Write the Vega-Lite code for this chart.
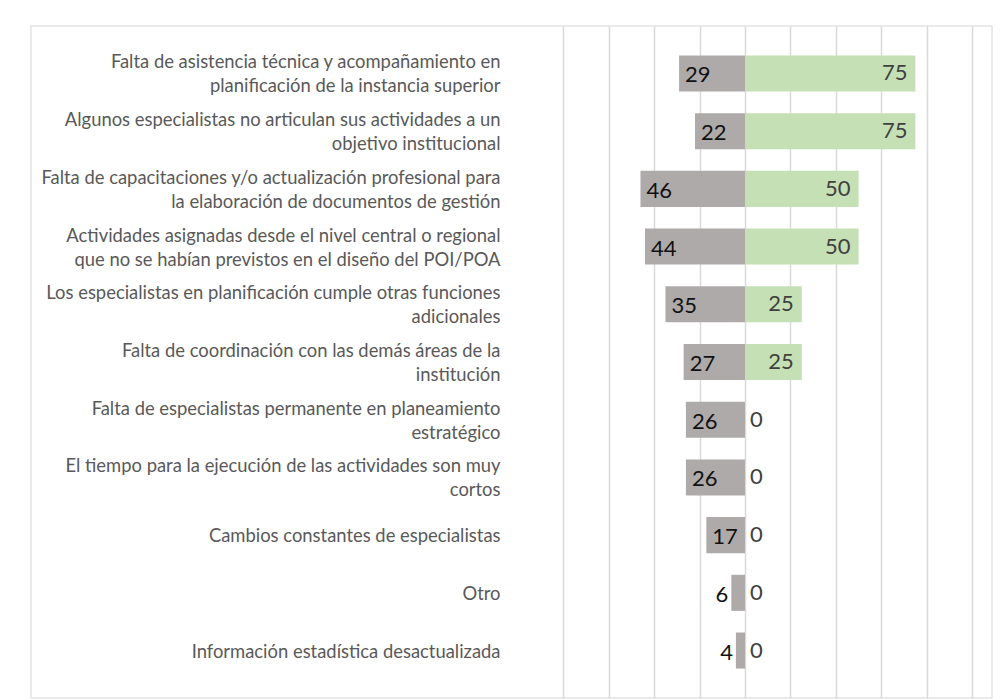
{
  "$schema": "https://vega.github.io/schema/vega-lite/v6.json",
  "autosize": {"type": "none"},
  "width": 961,
  "height": 672,
  "padding": {"left": 31, "top": 26, "right": 8, "bottom": 1},
  "background": "white",
  "config": {
    "view": {"stroke": "#e4e4e4", "strokeWidth": 1.5},
    "font": "Lato"
  },
  "data": {
    "values": [
      {"categoria": "Falta de asistencia técnica y acompañamiento en|planificación de la instancia superior", "gris": 29, "verde": 75},
      {"categoria": "Algunos especialistas no articulan sus actividades a un|objetivo institucional", "gris": 22, "verde": 75},
      {"categoria": "Falta de capacitaciones y/o actualización profesional para|la elaboración de documentos de gestión", "gris": 46, "verde": 50},
      {"categoria": "Actividades asignadas desde el nivel central o regional|que no se habían previstos en el diseño del POI/POA", "gris": 44, "verde": 50},
      {"categoria": "Los especialistas en planificación cumple otras funciones|adicionales", "gris": 35, "verde": 25},
      {"categoria": "Falta de coordinación con las demás áreas de la|institución", "gris": 27, "verde": 25},
      {"categoria": "Falta de especialistas permanente en planeamiento|estratégico", "gris": 26, "verde": 0},
      {"categoria": "El tiempo para la ejecución de las actividades son muy|cortos", "gris": 26, "verde": 0},
      {"categoria": "Cambios constantes de especialistas", "gris": 17, "verde": 0},
      {"categoria": "Otro", "gris": 6, "verde": 0},
      {"categoria": "Información estadística desactualizada", "gris": 4, "verde": 0}
    ]
  },
  "transform": [{"calculate": "-datum.gris", "as": "neg"}],
  "encoding": {
    "y": {
      "field": "categoria",
      "type": "nominal",
      "sort": null,
      "scale": {"paddingInner": 0.375, "paddingOuter": 0.51},
      "axis": {
        "title": null,
        "domain": false,
        "ticks": false,
        "grid": false,
        "labelExpr": "split(datum.value, '|')",
        "labelAlign": "right",
        "labelBaseline": "middle",
        "labelPadding": -469,
        "labelOffset": {"condition": {"test": "indexof(datum.value, '|') >= 0", "value": -11}, "value": 1},
        "labelLimit": 0,
        "labelFont": "Lato",
        "labelFontSize": 18.4,
        "labelLineHeight": 24,
        "labelColor": "#595959",
        "zindex": 1
      }
    }
  },
  "layer": [
    {
      "mark": {"type": "bar", "color": "#AEAAAA"},
      "encoding": {
        "x": {
          "field": "neg",
          "type": "quantitative",
          "scale": {"domain": [-314.2, 108.7], "nice": false, "zero": false},
          "axis": {
            "title": null,
            "labels": false,
            "ticks": false,
            "domain": false,
            "grid": true,
            "values": [-80, -60, -40, -20, 0, 20, 40, 60, 80, 100],
            "gridColor": "#d9d9d9",
            "gridWidth": 1.5
          }
        },
        "x2": {"datum": 0}
      }
    },
    {
      "mark": {"type": "bar", "color": "#C5E0B4"},
      "encoding": {
        "x": {"field": "verde", "type": "quantitative"},
        "x2": {"datum": 0}
      }
    },
    {
      "transform": [{"filter": "datum.gris >= 10"}],
      "mark": {"type": "text", "align": "left", "baseline": "middle", "dx": 6, "dy": 2, "fontSize": 22, "color": "#111111"},
      "encoding": {
        "x": {"field": "neg", "type": "quantitative"},
        "text": {"field": "gris", "type": "quantitative"}
      }
    },
    {
      "transform": [{"filter": "datum.gris < 10"}],
      "mark": {"type": "text", "align": "right", "baseline": "middle", "dx": -3, "dy": 2, "fontSize": 22, "color": "#111111"},
      "encoding": {
        "x": {"field": "neg", "type": "quantitative"},
        "text": {"field": "gris", "type": "quantitative"}
      }
    },
    {
      "transform": [{"filter": "datum.verde > 0"}],
      "mark": {"type": "text", "align": "right", "baseline": "middle", "dx": -8, "dy": 0, "fontSize": 22, "color": "#404040"},
      "encoding": {
        "x": {"field": "verde", "type": "quantitative"},
        "text": {"field": "verde", "type": "quantitative"}
      }
    },
    {
      "transform": [{"filter": "datum.verde == 0"}],
      "mark": {"type": "text", "align": "left", "baseline": "middle", "dx": 5, "dy": 0, "fontSize": 22, "color": "#404040"},
      "encoding": {
        "x": {"field": "verde", "type": "quantitative"},
        "text": {"field": "verde", "type": "quantitative"}
      }
    }
  ]
}
